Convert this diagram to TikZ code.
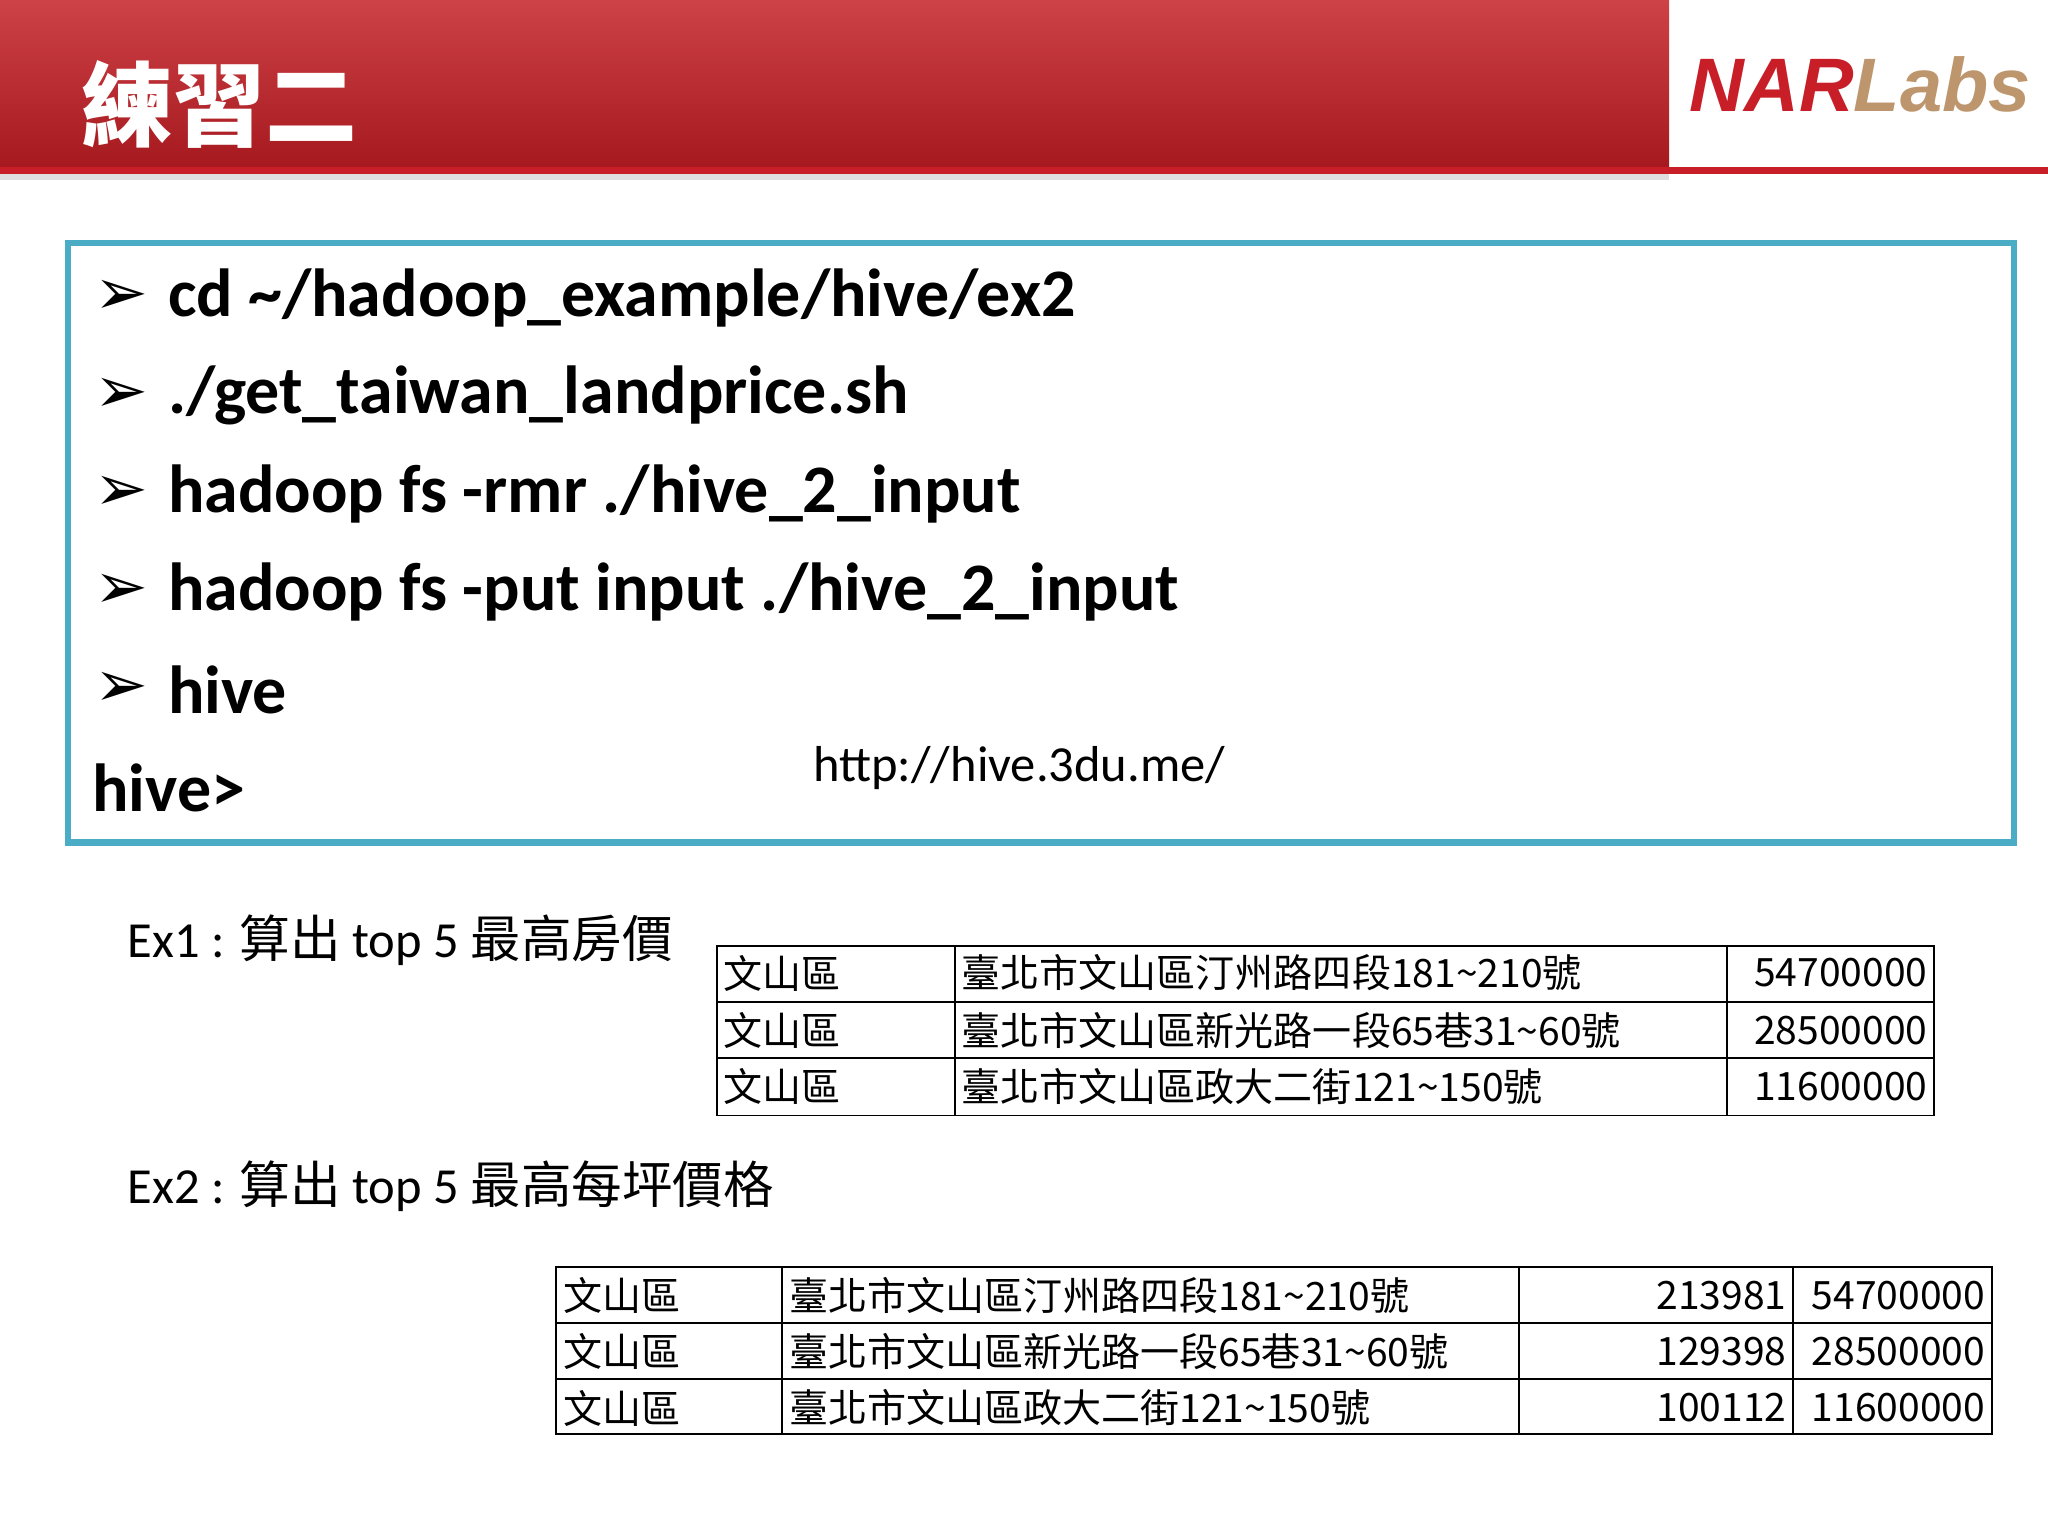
\documentclass[tikz,border=0pt]{standalone}
\usepackage{fontspec}
\setmainfont{Carlito}
\newfontfamily\cjk{Noto Sans CJK TC}
\newfontfamily\djfont{DejaVu Sans}
\newfontfamily\logofont{Liberation Sans}
\definecolor{hdr}{RGB}{200,45,50}
\definecolor{hdrd}{RGB}{165,25,30}
\definecolor{bbox}{RGB}{75,172,198}
\definecolor{nar}{RGB}{200,30,40}
\definecolor{labs}{RGB}{190,150,110}
\tikzset{cmd/.style={anchor=west,font=\fontsize{14.8}{16}\selectfont\bfseries,inner sep=0},
 bul/.style={anchor=west,font=\djfont\bfseries\fontsize{14}{16}\selectfont,inner sep=0},
 cell/.style={anchor=west,font=\cjk\fontsize{8.5}{10}\selectfont,inner sep=1pt},
 num/.style={anchor=east,font=\cjk\fontsize{8.5}{10}\selectfont,inner sep=1pt},
 tbl/.style={line width=0.4pt},
 lbl/.style={anchor=west,font=\fontsize{11}{12}\selectfont,inner sep=0}}
\begin{document}
\begin{tikzpicture}[x=0.01cm,y=-0.01cm]
\useasboundingbox (0,0) rectangle (1568,1176);
\fill[white] (0,0) rectangle (1568,1176);
% header
\shade[top color=hdr!90!white,bottom color=hdrd] (0,0) rectangle (1278,130);
\fill[gray!25] (0,130) rectangle (1278,138);
\fill[nar] (0,128) rectangle (1568,133);
\node[anchor=west,text=white,font=\cjk\bfseries\fontsize{20}{22}\selectfont,inner sep=0] (title) at (62,80) {練習二};
\node[anchor=west,inner sep=0,font=\logofont\bfseries\itshape\fontsize{16.5}{18}\selectfont] (logo) at (1293,65) {\textcolor{nar}{NAR}\textcolor{labs}{Labs}};
% blue box
\draw[bbox,line width=1.4pt] (52,186) rectangle (1542,645);
\foreach \y/\t [count=\i] in {228/{cd \textasciitilde/hadoop\_example/hive/ex2},303/{./get\_taiwan\_landprice.sh},378/{hadoop fs -rmr ./hive\_2\_input},453/{hadoop fs -put input ./hive\_2\_input},528/{hive}}{
 \node[bul] (b\i) at (72,\y) {➢};
 \node[cmd] (c\i) at (128,\y) {\t};
}
\node[cmd] (prompt) at (70,603) {hive>};
\node[lbl] (url) at (622,588) {http://hive.3du.me/};
% Ex1
\node[lbl] (ex1) at (97,720) {Ex1 : {\cjk 算出} top 5 {\cjk 最高房價}};
\draw[tbl] (549,724) rectangle (1481,854);
\draw[tbl] (549,767) -- (1481,767) (549,810) -- (1481,810) (731,724) -- (731,854) (1322,724) -- (1322,854);
\foreach \y/\a/\n [count=\i] in {745/臺北市文山區汀州路四段181\textasciitilde210號/54700000,789/臺北市文山區新光路一段65巷31\textasciitilde60號/28500000,832/臺北市文山區政大二街121\textasciitilde150號/11600000}{
 \node[cell] (ta\i) at (550,\y) {文山區};
 \node[cell] (tb\i) at (732,\y) {\a};
 \node[num] (tc\i) at (1480,\y) {\n};
}
% Ex2
\node[lbl] (ex2) at (97,908) {Ex2 : {\cjk 算出} top 5 {\cjk 最高每坪價格}};
\draw[tbl] (426,970) rectangle (1525,1098);
\draw[tbl] (426,1013) -- (1525,1013) (426,1056) -- (1525,1056) (599,970) -- (599,1098) (1163,970) -- (1163,1098) (1373,970) -- (1373,1098);
\foreach \y/\a/\m/\n [count=\i] in {992/臺北市文山區汀州路四段181\textasciitilde210號/213981/54700000,1035/臺北市文山區新光路一段65巷31\textasciitilde60號/129398/28500000,1078/臺北市文山區政大二街121\textasciitilde150號/100112/11600000}{
 \node[cell] (sa\i) at (427,\y) {文山區};
 \node[cell] (sb\i) at (600,\y) {\a};
 \node[num] (sc\i) at (1372,\y) {\m};
 \node[num] (sd\i) at (1524,\y) {\n};
}
\end{tikzpicture}
\end{document}
